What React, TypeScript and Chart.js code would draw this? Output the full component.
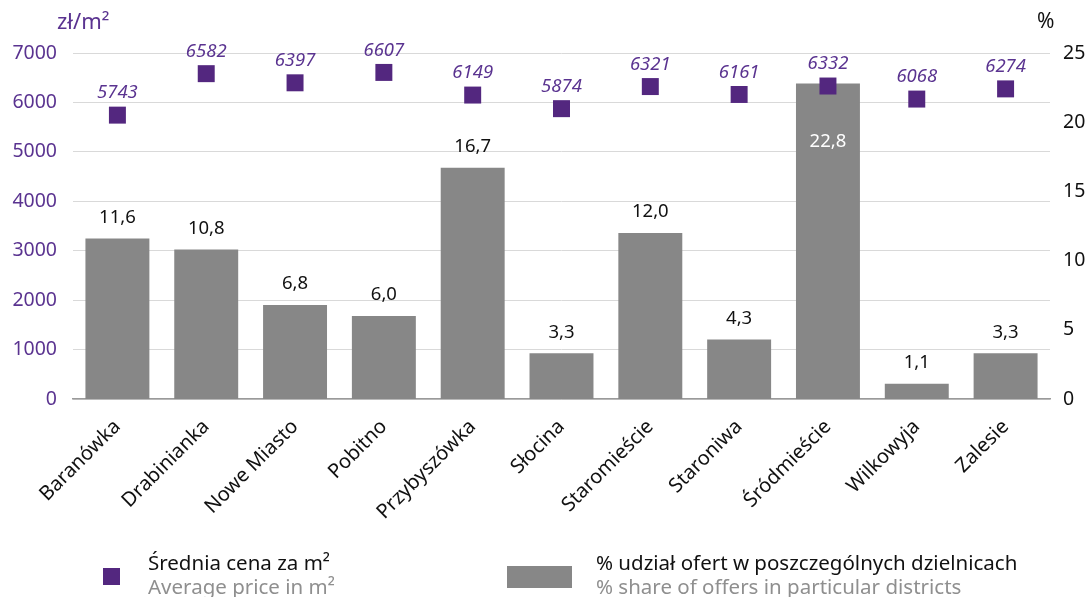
import React, { useEffect, useRef } from 'react';
import { Chart, registerables } from 'chart.js';

Chart.register(...registerables);

const districts = ['Baranówka', 'Drabinianka', 'Nowe Miasto', 'Pobitno', 'Przybyszówka', 'Słocina', 'Staromieście', 'Staroniwa', 'Śródmieście', 'Wilkowyja', 'Zalesie'];
const avgPrice = [5743, 6582, 6397, 6607, 6149, 5874, 6321, 6161, 6332, 6068, 6274];
const offerShare = [11.6, 10.8, 6.8, 6.0, 16.7, 3.3, 12.0, 4.3, 22.8, 1.1, 3.3];
const priceAxis = { min: 0, max: 7000, step: 1000 };
const shareAxis = { min: 0, max: 25, step: 5 };
const priceLegend = ['Średnia cena za m²', 'Average price in m²'];
const shareLegend = ['% udział ofert w poszczególnych dzielnicach', '% share of offers in particular districts'];
const priceUnit = 'zł/m²';
const shareUnit = '%';

const PURPLE = '#53277f';
const PURPLE_TEXT = '#5a3390';
const GRAY = '#878787';
const FONT = '"Noto Sans", "Open Sans", sans-serif';

const labelsPlugin = {
  id: 'customLabels',
  afterDatasetsDraw(chart: any) {
    const ctx = chart.ctx;
    ctx.save();
    ctx.textAlign = 'center';
    ctx.textBaseline = 'middle';
    const barMeta = chart.getDatasetMeta(1);
    barMeta.data.forEach((el: any, i: number) => {
      const v = offerShare[i];
      const txt = v.toFixed(1).replace('.', ',');
      ctx.font = `18.5px ${FONT}`;
      if (v > 20) {
        ctx.fillStyle = '#ffffff';
        ctx.fillText(txt, el.x, el.y + 58);
      } else {
        ctx.fillStyle = '#111111';
        ctx.fillText(txt, el.x, el.y - 21);
      }
    });
    const ptMeta = chart.getDatasetMeta(0);
    ptMeta.data.forEach((el: any, i: number) => {
      ctx.font = `italic 18.5px ${FONT}`;
      ctx.fillStyle = PURPLE_TEXT;
      ctx.fillText(String(avgPrice[i]), el.x, el.y - 22);
    });
    ctx.restore();
  },
  afterDraw(chart: any) {
    const ctx = chart.ctx;
    ctx.save();
    ctx.textBaseline = 'middle';
    ctx.textAlign = 'left';
    ctx.font = `22px ${FONT}`;
    ctx.fillStyle = PURPLE_TEXT;
    ctx.fillText(priceUnit, 57, 23);
    ctx.font = `21px ${FONT}`;
    ctx.fillStyle = '#111111';
    ctx.fillText(shareUnit, 1037, 22);
    ctx.fillStyle = PURPLE;
    ctx.fillRect(103, 568, 17, 17);
    ctx.fillStyle = GRAY;
    ctx.fillRect(507, 566, 65, 22);
    ctx.font = `20.5px ${FONT}`;
    ctx.fillStyle = '#111111';
    ctx.fillText(priceLegend[0], 148, 564);
    ctx.fillText(shareLegend[0], 596, 564);
    ctx.fillStyle = '#8f8f8f';
    ctx.fillText(priceLegend[1], 148, 588);
    ctx.fillText(shareLegend[1], 596, 588);
    ctx.restore();
  },
};

export default function App() {
  const ref = useRef<HTMLCanvasElement>(null);
  useEffect(() => {
    if (!ref.current) return;
    const chart = new Chart(ref.current, {
      type: 'bar',
      data: {
        labels: districts,
        datasets: [
          {
            type: 'line',
            label: priceLegend[0],
            data: avgPrice,
            yAxisID: 'yPrice',
            showLine: false,
            pointStyle: 'rect',
            pointRadius: 12,
            pointHoverRadius: 12,
            pointBorderWidth: 0,
            backgroundColor: PURPLE,
            borderColor: PURPLE,
            order: 0,
          } as any,
          {
            type: 'bar',
            label: shareLegend[0],
            data: offerShare,
            yAxisID: 'yShare',
            backgroundColor: GRAY,
            barPercentage: 0.72,
            categoryPercentage: 1,
            order: 1,
          },
        ],
      },
      options: {
        responsive: false,
        animation: false,
        events: [],
        layout: { padding: { top: 53, left: 0, right: 0, bottom: 0 } },
        plugins: { legend: { display: false }, tooltip: { enabled: false } },
        scales: {
          x: {
            offset: true,
            grid: { display: false, drawTicks: false },
            border: { display: true, color: '#9a9a9a', width: 1.5 },
            ticks: {
              autoSkip: false,
              maxRotation: 45,
              minRotation: 45,
              padding: 16,
              color: '#111111',
              font: { family: FONT, size: 20 },
            },
            afterFit: (s: any) => { s.height = 198; },
          },
          yPrice: {
            position: 'left',
            min: priceAxis.min,
            max: priceAxis.max,
            ticks: {
              stepSize: priceAxis.step,
              padding: 16,
              color: PURPLE_TEXT,
              font: { family: FONT, size: 19.5 },
              callback: (v: any) => String(v),
            },
            grid: { color: '#d9d9d9', drawTicks: false },
            border: { display: false },
            afterFit: (s: any) => { s.width = 73; },
          },
          yShare: {
            position: 'right',
            min: shareAxis.min,
            max: shareAxis.max,
            ticks: {
              stepSize: shareAxis.step,
              padding: 13,
              color: '#111111',
              font: { family: FONT, size: 19.5 },
              callback: (v: any) => String(v),
            },
            grid: { display: false, drawTicks: false },
            border: { display: false },
            afterFit: (s: any) => { s.width = 38; },
          },
        },
      } as any,
      plugins: [labelsPlugin],
    });
    return () => chart.destroy();
  }, []);
  return (
    <div style={{ position: 'absolute', left: 0, top: 0, width: 1088, height: 597, background: '#fff' }}>
      <canvas ref={ref} width={1088} height={597} style={{ display: 'block' }} />
    </div>
  );
}
